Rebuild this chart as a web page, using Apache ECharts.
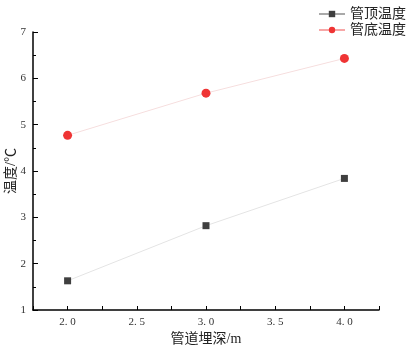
<!DOCTYPE html>
<html lang="zh" style="height: 100%">
<head>
<meta charset="utf-8">
<title>管道埋深与温度</title>
</head>
<body style="height: 100%; margin: 0; background: #fff">
<div id="container" style="height: 100%"></div>
<script type="text/javascript" src="https://cdn.jsdelivr.net/npm/echarts@6/dist/echarts.min.js"></script>
<script type="text/javascript">
var depths = [2.0, 3.0, 4.0];
var topTemp = [1.63, 2.82, 3.84];
var bottomTemp = [4.77, 5.68, 6.43];
var xTickLabels = ['2. 0', '2. 5', '3. 0', '3. 5', '4. 0'];
var seriesNames = ['管顶温度', '管底温度'];

var dom = document.getElementById('container');
var myChart = echarts.init(dom);
var font = '"Liberation Serif", "Noto Sans CJK SC", serif';

function pairs(ys) {
    return depths.map(function (d, i) { return [d, ys[i]]; });
}

var option = {
    animation: false,
    textStyle: { fontFamily: font },
    grid: { left: 33, right: 38, top: 32, bottom: 42, outerBoundsMode: 'none' },
    legend: {
        orient: 'vertical',
        right: 6,
        top: 2,
        itemGap: 2,
        itemWidth: 26,
        itemHeight: 8,
        textStyle: { fontFamily: font, fontSize: 14, color: '#222' },
        data: [
            { name: seriesNames[0], lineStyle: { color: '#8c8c8c', width: 1.5 } },
            { name: seriesNames[1], lineStyle: { color: '#f48a8a', width: 1.5 } }
        ]
    },
    xAxis: {
        type: 'value',
        min: 1.75,
        max: 4.25,
        interval: 0.25,
        name: '管道埋深/m',
        nameLocation: 'middle',
        nameGap: 22,
        nameMoveOverlap: false,
        nameTextStyle: { fontSize: 14, color: '#222', fontFamily: font },
        axisLine: { onZero: false, lineStyle: { color: '#000', width: 1.5 } },
        axisTick: { inside: true, length: 4, lineStyle: { color: '#000' } },
        axisLabel: {
            color: '#333',
            fontSize: 11,
            margin: 7,
            showMinLabel: true,
            showMaxLabel: true,
            formatter: function (v) {
                var k = Math.round((v - 2) / 0.5 * 100) / 100;
                return (k >= 0 && k === Math.floor(k) && k < xTickLabels.length) ? xTickLabels[k] : '';
            }
        },
        splitLine: { show: false }
    },
    yAxis: {
        type: 'value',
        min: 1,
        max: 7,
        interval: 1,
        name: '温度/℃',
        nameLocation: 'middle',
        nameGap: 15,
        nameMoveOverlap: false,
        nameTextStyle: { fontSize: 14, color: '#222', fontFamily: font },
        axisLine: { show: true, lineStyle: { color: '#000', width: 1.5 } },
        axisTick: { inside: true, length: 5, lineStyle: { color: '#000' } },
        minorTick: { show: true, splitNumber: 2, length: 3, lineStyle: { color: '#000' } },
        axisLabel: { color: '#333', fontSize: 11, margin: 7 },
        splitLine: { show: false }
    },
    series: [
        {
            name: seriesNames[0],
            type: 'line',
            data: pairs(topTemp),
            symbol: 'rect',
            symbolSize: 7,
            itemStyle: { color: '#3f3f3f' },
            lineStyle: { color: '#e4e4e4', width: 1 }
        },
        {
            name: seriesNames[1],
            type: 'line',
            data: pairs(bottomTemp),
            symbol: 'circle',
            symbolSize: 9,
            itemStyle: { color: '#ef3434' },
            lineStyle: { color: '#f6dede', width: 1 }
        }
    ]
};

myChart.setOption(option);
window.addEventListener('resize', myChart.resize);
</script>
</body>
</html>
